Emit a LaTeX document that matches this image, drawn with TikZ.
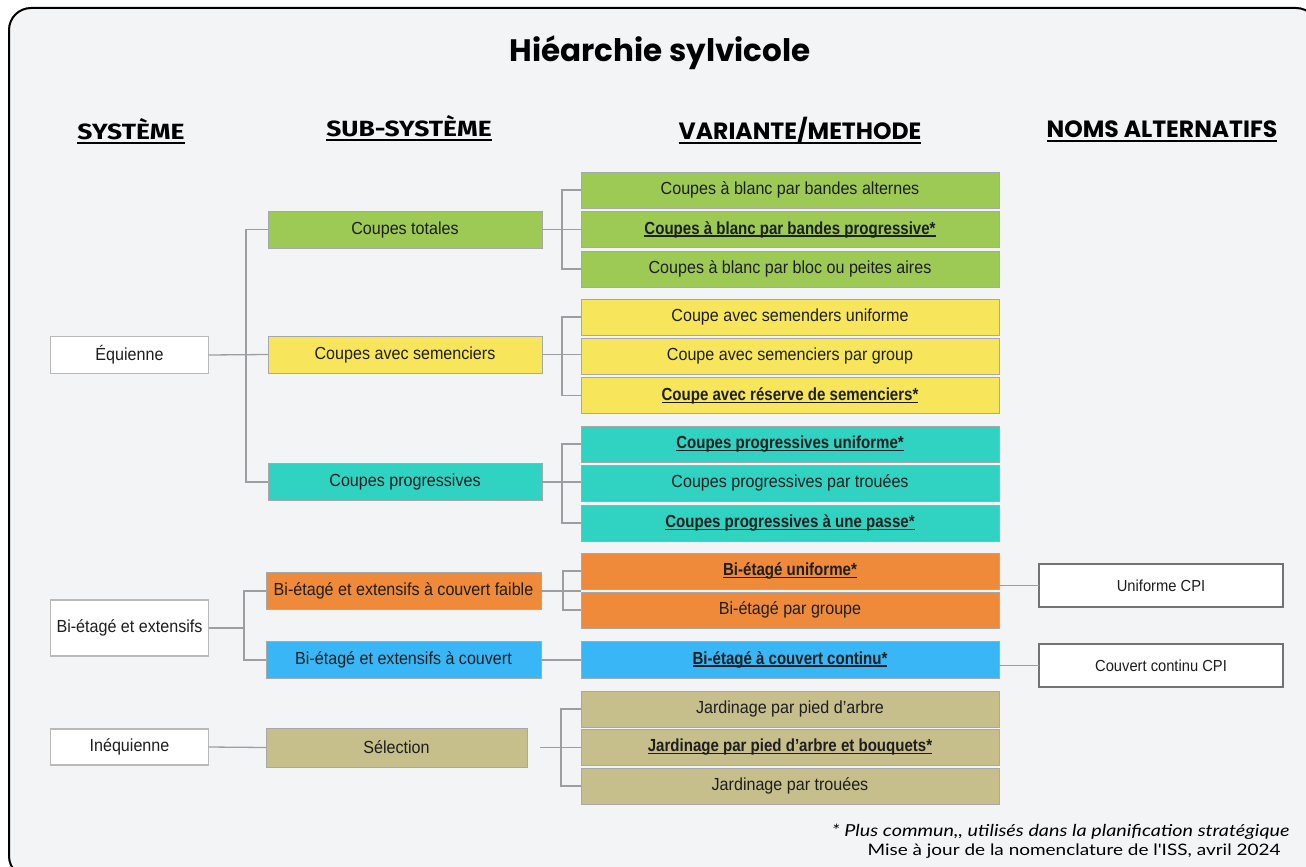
\documentclass[tikz,border=0pt]{standalone}
\usepackage{fontspec}
\setmainfont[FakeStretch=0.92, BoldFeatures={FakeStretch=0.86}]{Liberation Sans}
\newfontfamily\titlef{Poppins}
\newfontfamily\hdrf[FakeStretch=1.2]{Fira Sans}
\newfontfamily\hdrb{Poppins}
\newfontfamily\notef[FakeStretch=1.2]{Lato}
\definecolor{bgc}{HTML}{F3F4F6}
\definecolor{cgreen}{HTML}{9DC955}
\definecolor{cyellow}{HTML}{F7E65B}
\definecolor{cteal}{HTML}{30D2C2}
\definecolor{corange}{HTML}{EE8A3A}
\definecolor{cblue}{HTML}{38B6F5}
\definecolor{ctan}{HTML}{C6BF8C}
\definecolor{cline}{HTML}{9E9E9E}
\definecolor{cbord}{HTML}{A8A8A8}
\definecolor{ctext}{HTML}{1E1E1E}
\newcommand{\bu}[1]{{\bfseries\setbox0=\hbox{#1}\rlap{\copy0}\rule[-2.5pt]{\wd0}{1.1pt}}}
\newcommand{\hu}[1]{{\setbox0=\hbox{#1}\rlap{\copy0}\rule[-4.5pt]{\wd0}{2pt}}}
\tikzset{
  box/.style={draw=cbord, line width=0.9pt, inner sep=0pt, outer sep=0pt, font=\fontsize{17.5}{19}\selectfont, text=ctext},
  colbox/.style={box, minimum width=418pt, minimum height=36pt},
  subbox/.style={box, minimum width=274pt, minimum height=37pt},
  sysbox/.style={box, fill=white, draw=cbord!80, line width=1.4pt, minimum width=158pt},
  altbox/.style={box, fill=white, draw=black!55, line width=2pt, minimum width=244pt, minimum height=43pt, font=\fontsize{16}{18}\selectfont},
  conn/.style={draw=cline, line width=1.3pt},
  hdr/.style={font=\hdrf\bfseries\fontsize{22}{24}\selectfont},
  hdr2/.style={font=\hdrb\bfseries\fontsize{23.5}{26}\selectfont},
}
\begin{document}
\begin{tikzpicture}[x=1pt,y=-1pt]
\useasboundingbox (0,0) rectangle (1306,867);
\fill[white] (0,0) rectangle (1306,867);
\begin{scope}
\clip (0,0) rectangle (1306,867);
\draw[fill=bgc, line width=2pt, rounded corners=22pt] (9,8) rectangle (1318,878);
\end{scope}
% title and headers
\node[font=\titlef\bfseries\fontsize{31}{34}\selectfont] (title) at (660,53) {Hiéarchie sylvicole};
\node[hdr] (h1) at (131,131) {\hu{SYSTÈME}};
\node[hdr] (h2) at (409,128) {\hu{SUB-SYSTÈME}};
\node[hdr2] (h3) at (800,131) {\hu{VARIANTE/METHODE}};
\node[hdr2] (h4) at (1162,131) {\hu{NOMS ALTERNATIFS}};
% systems
\node[sysbox, minimum height=37pt] (equ) at (129.5,355) {Équienne};
\node[sysbox, minimum height=56pt] (bi) at (129.5,628) {Bi-étagé et extensifs};
\node[sysbox, minimum height=36pt] (ineq) at (129.5,747) {Inéquienne};
% sub-systems
\node[subbox, fill=cgreen] (ct) at (405,229.5) {Coupes totales};
\node[subbox, fill=cyellow] (cs) at (405,354.5) {Coupes avec semenciers};
\node[subbox, fill=cteal] (cp) at (405,482) {Coupes progressives};
\node[subbox, fill=corange, minimum width=275pt] (bf) at (403.5,591) {Bi-étagé et extensifs à couvert faible};
\node[subbox, fill=cblue, minimum width=275pt] (bc) at (403.5,660) {Bi-étagé et extensifs à couvert};
\node[subbox, fill=ctan, minimum width=261pt, minimum height=39pt] (sel) at (396.5,747.5) {Sélection};
% variants
\node[colbox, fill=cgreen] (g1) at (790,190) {Coupes à blanc par bandes alternes};
\node[colbox, fill=cgreen] (g2) at (790,229.5) {\bu{Coupes à blanc par bandes progressive*}};
\node[colbox, fill=cgreen] (g3) at (790,269) {Coupes à blanc par bloc ou peites aires};
\node[colbox, fill=cyellow] (y1) at (790,317) {Coupe avec semenders uniforme};
\node[colbox, fill=cyellow] (y2) at (790,356) {Coupe avec semenciers par group};
\node[colbox, fill=cyellow] (y3) at (790,395.5) {\bu{Coupe avec réserve de semenciers*}};
\node[colbox, fill=cteal] (c1) at (790,444) {\bu{Coupes progressives uniforme*}};
\node[colbox, fill=cteal] (c2) at (790,483) {Coupes progressives par trouées};
\node[colbox, fill=cteal] (c3) at (790,523) {\bu{Coupes progressives à une passe*}};
\node[colbox, fill=corange] (o1) at (790,571) {\bu{Bi-étagé uniforme*}};
\node[colbox, fill=corange] (o2) at (790,610) {Bi-étagé par groupe};
\node[colbox, fill=cblue, minimum height=37pt] (bl) at (790,659.5) {\bu{Bi-étagé à couvert continu*}};
\node[colbox, fill=ctan] (t1) at (790,709) {Jardinage par pied d’arbre};
\node[colbox, fill=ctan] (t2) at (790,747.5) {\bu{Jardinage par pied d’arbre et bouquets*}};
\node[colbox, fill=ctan] (t3) at (790,786) {Jardinage par trouées};
% alternative names
\node[altbox] (a1) at (1161,585.5) {Uniforme CPI};
\node[altbox] (a2) at (1161,665.5) {Couvert continu CPI};
% connectors
\draw[conn] (equ.east) -- (cs.west);
\draw[conn] (ct.west) -- ++(-22,0) |- (cp.west);
\draw[conn] (ct.east) -- (g2.west);
\draw[conn] (g1.west) -- ++(-19,0) |- (g3.west);
\draw[conn] (cs.east) -- (cs.east -| y2.west);
\draw[conn] (y1.west) -- ++(-19,0) |- (y3.west);
\draw[conn] (cp.east) -- (cp.east -| c2.west);
\draw[conn] (c1.west) -- ++(-19,0) |- (c3.west);
\draw[conn] (bi.east) -- ++(36,0);
\draw[conn] (bf.west) -- ++(-22,0) |- (bc.west);
\draw[conn] (bf.east) -- (bf.east -| o1.west);
\draw[conn] (o1.west) -- ++(-18,0) |- (o2.west);
\draw[conn] (bc.east) -- (bc.east -| bl.west);
\draw[conn] (ineq.east) -- (sel.west);
\draw[conn] ([xshift=13pt]sel.east) -- (sel.east -| t2.west);
\draw[conn] (t1.west) -- ++(-20,0) |- (t3.west);
\draw[conn] (a1.west) -- (a1.west -| o1.east);
\draw[conn] (a2.west) -- (a2.west -| bl.east);
% notes
\node[anchor=east, font=\notef\itshape\fontsize{16.5}{18}\selectfont] (n1) at (1293,832) {* Plus commun,, utilisés dans la planification stratégique};
\node[anchor=east, font=\notef\fontsize{15.8}{18}\selectfont] (n2) at (1284,851) {Mise à jour de la nomenclature de l'ISS, avril 2024};
\end{tikzpicture}
\end{document}
